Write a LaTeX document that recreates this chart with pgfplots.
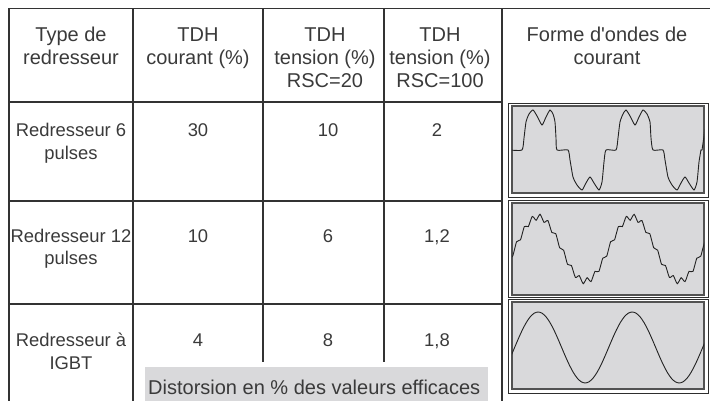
\documentclass[border=0pt]{standalone}
\usepackage{pgfplots}
\pgfplotsset{compat=1.18}
\usepackage{fontspec}
\setmainfont{Liberation Sans}

\definecolor{txt}{HTML}{3A3A3A}
\definecolor{rule}{HTML}{333333}
\definecolor{panel}{HTML}{D9D9DB}
\definecolor{wave}{HTML}{222222}

\pgfplotsset{
  wavepanel/.style={
    scale only axis, width=192pt, anchor=south west,
    xtick=\empty, ytick=\empty,
    axis line style={draw=rule!85, line width=1.1pt},
    axis background/.style={fill=panel},
  },
  waveline/.style={wave, line width=0.9pt, no marks},
}

\begin{document}
\begin{tikzpicture}[
  hd/.style={anchor=base, inner sep=0pt, text=txt, font=\fontsize{20}{24}\selectfont},
  bd/.style={anchor=base, inner sep=0pt, text=txt, font=\fontsize{18.4}{22}\selectfont}]
\useasboundingbox (0pt,0pt) rectangle (710pt,401pt);

\begin{scope}[x=1pt,y=1pt]
% table rules
\draw[rule, line width=1.1pt] (9,0) -- (9,392.5) -- (710,392.5);
\draw[rule, line width=1.1pt] (133,0) -- (133,392.5);
\draw[rule, line width=1.1pt] (263,39) -- (263,392.5);
\draw[rule, line width=1.1pt] (384,39) -- (384,392.5);
\draw[rule, line width=1.1pt] (502,0) -- (502,392.5);
\draw[rule, line width=1.1pt] (9,299) -- (502,299);
\draw[rule, line width=1.1pt] (9,200) -- (502,200);
\draw[rule, line width=1.1pt] (9,97) -- (502,97);

% header
\node[hd] at (71,359) {Type de};
\node[hd] at (71,336) {redresseur};
\node[hd] at (198,359) {TDH};
\node[hd] at (198,336) {courant (\%)};
\node[hd] at (325,359) {TDH};
\node[hd] at (325,336) {tension (\%)};
\node[hd] at (325,313) {RSC=20};
\node[hd] at (440,359) {TDH};
\node[hd] at (440,336) {tension (\%)};
\node[hd] at (440,313) {RSC=100};
\node[hd] at (607,359) {Forme d\textquotesingle ondes de};
\node[hd] at (607,336) {courant};

% rows
\node[bd] at (71,264) {Redresseur 6};
\node[bd] at (71,241) {pulses};
\node[bd] at (198,264) {30};
\node[bd] at (328,264) {10};
\node[bd] at (437,264) {2};

\node[bd] at (71,158) {Redresseur 12};
\node[bd] at (71,136) {pulses};
\node[bd] at (198,158) {10};
\node[bd] at (328,158) {6};
\node[bd] at (437,158) {1,2};

\node[bd] at (71,54) {Redresseur à};
\node[bd] at (71,31) {IGBT};
\node[bd] at (198,54) {4};
\node[bd] at (328,54) {8};
\node[bd] at (437,54) {1,8};

% caption box
\fill[panel] (145,0) rectangle (488,34);
\node[bd, anchor=base west, font=\fontsize{20}{24}\selectfont] at (148,6) {Distorsion en \% des valeurs efficaces};

% outer frames of the waveform panels
\draw[rule!90!black, line width=0.8pt] (508,204) rectangle (708,298);
\draw[rule!90!black, line width=0.8pt] (508,104) rectangle (708,201);
\draw[rule!90!black, line width=0.8pt] (508,8) rectangle (708,102);
\end{scope}

% 6 pulses
\begin{axis}[wavepanel, at={(512pt,208pt)}, height=87pt,
  xmin=512, xmax=704, ymin=-43, ymax=44]
\addplot[waveline, smooth, tension=0.35] coordinates {
 (510,0) (522,0) (524,12) (526,28) (529,36) (533,40) (537,34) (542,25)
 (546,33) (550,40) (553,36) (555,28) (556,12) (557,0) (568,0) (570,-10)
 (573,-27) (577,-35) (582,-40) (586,-33) (590,-27) (594,-33) (599,-40)
 (602,-32) (604,-12) (606,0) (616,0) (618,12) (620,28) (623,36) (626,40)
 (630,34) (635,25) (639,33) (643,40) (647,36) (650,28) (651,12) (653,0)
 (663,0) (665,-10) (668,-27) (672,-35) (677,-40) (681,-33) (685,-27)
 (689,-33) (694,-40) (697,-32) (699,-12) (701,0) (702,0) (704,14) (705,24)
};
\end{axis}

% 12 pulses
\begin{axis}[wavepanel, at={(512pt,106pt)}, height=92pt,
  xmin=-10, xmax=725, ymin=-46, ymax=46]
\addplot[waveline, smooth, tension=0.5] coordinates {
 (-15,-8.3) (-7.5,-7.2)
 (0,0) (7.5,7.2) (15,8.3) (22.5,9.2) (30,16) (37.5,22.5) (45,22.6) (52.5,22.4)
 (60,27.7) (67.5,32.6) (75,30.9) (82.5,28.7) (90,32) (97.5,34.7) (105,30.9)
 (112.5,26.6) (120,27.7) (127.5,28.4) (135,22.6) (142.5,16.5) (150,16)
 (157.5,15.3) (165,8.3) (172.5,1.2) (180,0) (187.5,-1.2) (195,-8.3)
 (202.5,-15.3) (210,-16) (217.5,-16.5) (225,-22.6) (232.5,-28.4) (240,-27.7)
 (247.5,-26.6) (255,-30.9) (262.5,-34.7) (270,-32) (277.5,-28.7) (285,-30.9)
 (292.5,-32.6) (300,-27.7) (307.5,-22.4) (315,-22.6) (322.5,-22.5) (330,-16)
 (337.5,-9.2) (345,-8.3) (352.5,-7.2)
 (360,0) (367.5,7.2) (375,8.3) (382.5,9.2) (390,16) (397.5,22.5) (405,22.6)
 (412.5,22.4) (420,27.7) (427.5,32.6) (435,30.9) (442.5,28.7) (450,32)
 (457.5,34.7) (465,30.9) (472.5,26.6) (480,27.7) (487.5,28.4) (495,22.6)
 (502.5,16.5) (510,16) (517.5,15.3) (525,8.3) (532.5,1.2) (540,0)
 (547.5,-1.2) (555,-8.3) (562.5,-15.3) (570,-16) (577.5,-16.5) (585,-22.6)
 (592.5,-28.4) (600,-27.7) (607.5,-26.6) (615,-30.9) (622.5,-34.7) (630,-32)
 (637.5,-28.7) (645,-30.9) (652.5,-32.6) (660,-27.7) (667.5,-22.4)
 (675,-22.6) (682.5,-22.5) (690,-16) (697.5,-9.2) (705,-8.3) (712.5,-7.2)
 (720,0) (727.5,7.2)
};
\end{axis}

% IGBT
\begin{axis}[wavepanel, at={(512pt,12pt)}, height=87pt,
  xmin=-10, xmax=725, ymin=-41.5, ymax=45.5]
\addplot[waveline, smooth] coordinates {
 (-15,-9.19) (0,0) (15,9.19) (30,17.75) (45,25.1) (60,30.74) (75,34.29)
 (90,35.5) (105,34.29) (120,30.74) (135,25.1) (150,17.75) (165,9.19) (180,0)
 (195,-9.19) (210,-17.75) (225,-25.1) (240,-30.74) (255,-34.29) (270,-35.5)
 (285,-34.29) (300,-30.74) (315,-25.1) (330,-17.75) (345,-9.19) (360,0)
 (375,9.19) (390,17.75) (405,25.1) (420,30.74) (435,34.29) (450,35.5)
 (465,34.29) (480,30.74) (495,25.1) (510,17.75) (525,9.19) (540,0)
 (555,-9.19) (570,-17.75) (585,-25.1) (600,-30.74) (615,-34.29) (630,-35.5)
 (645,-34.29) (660,-30.74) (675,-25.1) (690,-17.75) (705,-9.19) (720,0)
 (735,9.19)
};
\end{axis}
\end{tikzpicture}
\end{document}
